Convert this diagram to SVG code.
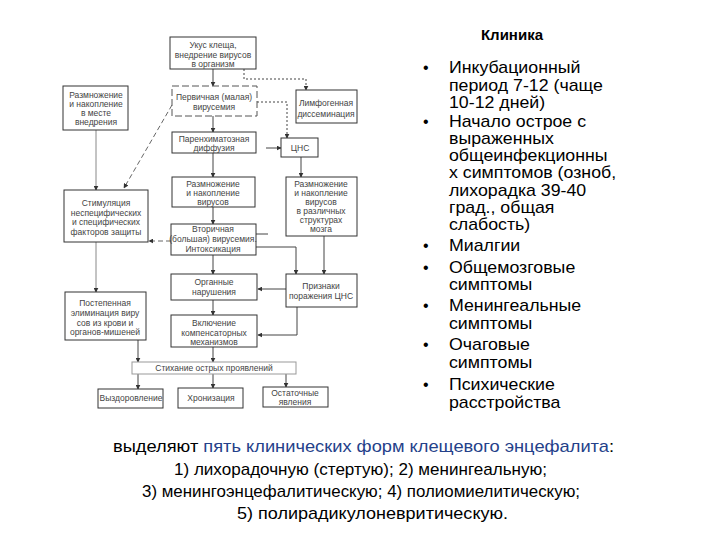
<svg xmlns="http://www.w3.org/2000/svg" width="720" height="540" viewBox="0 0 720 540">
<defs>
<marker id="ah" viewBox="0 0 8 8" refX="7" refY="4" markerWidth="5" markerHeight="5" orient="auto" markerUnits="userSpaceOnUse">
<path d="M0,0 L8,4 L0,8 z" fill="#333"/>
</marker>
</defs>
<style>
.b{fill:#fff;stroke:#333;stroke-width:1}
.bd{fill:#fff;stroke:#555;stroke-width:1;stroke-dasharray:7 3}
.bl{fill:#fff;stroke:#999;stroke-width:1}
.t{font-family:"Liberation Sans",Arial,sans-serif;font-size:8.5px;fill:#444;text-anchor:middle}
.c{fill:none;stroke:#444;stroke-width:1}
.cg{fill:none;stroke:#888;stroke-width:1}
.cd{fill:none;stroke:#444;stroke-width:1;stroke-dasharray:2 2}
.cdl{fill:none;stroke:#666;stroke-width:1;stroke-dasharray:5 3}
.r{font-family:"Liberation Sans",Arial,sans-serif;font-size:16px;fill:#000}
.bt{font-family:"Liberation Sans",Arial,sans-serif;font-size:17px;fill:#000;text-anchor:middle}
</style>
<rect width="720" height="540" fill="#fff"/>

<g id="connectors">
<path class="c" d="M213,69 V86" marker-end="url(#ah)"/>
<path class="c" d="M213,116 V132" marker-end="url(#ah)"/>
<path class="c" d="M213,153 V177" marker-end="url(#ah)"/>
<path class="c" d="M213,207 V224" marker-end="url(#ah)"/>
<path class="c" d="M213,255 V274" marker-end="url(#ah)"/>
<path class="c" d="M213,300 V315" marker-end="url(#ah)"/>
<path class="c" d="M213,347 V362" marker-end="url(#ah)"/>
<path class="cd" d="M244,69 V79 H306 V90" marker-end="url(#ah)"/>
<path class="cd" d="M257,102 H287 V138" marker-end="url(#ah)"/>
<path class="c" d="M266,148 H281" marker-end="url(#ah)"/>
<path class="c" d="M301,157 V177" marker-end="url(#ah)"/>
<path class="c" d="M256,234 H268"/>
<path class="c" d="M256,247 H296 V274" marker-end="url(#ah)"/>
<path class="c" d="M324,236 V274" marker-end="url(#ah)"/>
<path class="c" d="M286,289 H258" marker-end="url(#ah)"/>
<path class="c" d="M297,307 V335 H258" marker-end="url(#ah)"/>
<path class="cg" d="M96,130 V190" marker-end="url(#ah)"/>
<path class="cdl" d="M172,105 L124,188" marker-end="url(#ah)"/>
<path class="cdl" d="M171,241 H149" marker-end="url(#ah)"/>
<path class="cg" d="M96,242 V292" marker-end="url(#ah)"/>
<path class="c" d="M138,340 V362" marker-end="url(#ah)"/>
<path class="c" d="M138,374 V389" marker-end="url(#ah)"/>
<path class="c" d="M213,374 V388" marker-end="url(#ah)"/>
<path class="c" d="M286,374 V387" marker-end="url(#ah)"/>
</g>

<g id="n-ukus"><rect class="b" x="170" y="37" width="86" height="32"/>
<text class="t"><tspan x="213" y="48">Укус клеща,</tspan><tspan x="213" y="58">внедрение вирусов</tspan><tspan x="213" y="67">в организм</tspan></text></g>

<g id="n-perv"><rect class="bd" x="172" y="86" width="85" height="30"/>
<text class="t"><tspan x="214" y="100">Первичная (малая)</tspan><tspan x="214" y="110">вирусемия</tspan></text></g>

<g id="n-limf"><rect class="b" x="296" y="90" width="61" height="33"/>
<text class="t"><tspan x="326" y="106">Лимфогенная</tspan><tspan x="326" y="117">диссеминация</tspan></text></g>

<g id="n-paren"><rect class="b" x="172" y="132" width="84" height="21"/>
<text class="t"><tspan x="214" y="142">Паренхиматозная</tspan><tspan x="214" y="151">диффузия</tspan></text></g>

<g id="n-cns"><rect class="b" x="281" y="138" width="37" height="19"/>
<text class="t" x="300" y="151">ЦНС</text></g>

<g id="n-razm"><rect class="b" x="172" y="177" width="83" height="30"/>
<text class="t"><tspan x="213" y="187">Размножение</tspan><tspan x="213" y="196">и накопление</tspan><tspan x="213" y="205">вирусов</tspan></text></g>

<g id="n-razm-mozg"><rect class="b" x="286" y="177" width="71" height="59"/>
<text class="t"><tspan x="321" y="187">Размножение</tspan><tspan x="321" y="196">и накопление</tspan><tspan x="321" y="205">вирусов</tspan><tspan x="321" y="214">в различных</tspan><tspan x="321" y="223">структурах</tspan><tspan x="321" y="232">мозга</tspan></text></g>

<g id="n-vtor"><rect class="b" x="171" y="224" width="85" height="31"/>
<text class="t"><tspan x="213" y="232">Вторичная</tspan><tspan x="213" y="242">(большая) вирусемия.</tspan><tspan x="213" y="252">Интоксикация</tspan></text></g>

<g id="n-organ"><rect class="b" x="171" y="274" width="86" height="26"/>
<text class="t"><tspan x="214" y="285">Органные</tspan><tspan x="214" y="295">нарушения</tspan></text></g>

<g id="n-priznaki"><rect class="b" x="286" y="274" width="71" height="33"/>
<text class="t"><tspan x="321" y="289">Признаки</tspan><tspan x="321" y="299">поражения ЦНС</tspan></text></g>

<g id="n-vkl"><rect class="b" x="171" y="315" width="86" height="32"/>
<text class="t"><tspan x="214" y="326">Включение</tspan><tspan x="214" y="336">компенсаторных</tspan><tspan x="214" y="345">механизмов</tspan></text></g>

<g id="n-stih"><rect class="bl" x="132" y="362" width="164" height="12"/>
<text class="t" x="214" y="371">Стихание острых проявлений</text></g>

<g id="n-vyzd"><rect class="b" x="98" y="389" width="65" height="19"/>
<text class="t" x="131" y="401">Выздоровление</text></g>

<g id="n-hron"><rect class="b" x="178" y="388" width="65" height="20"/>
<text class="t" x="211" y="401">Хронизация</text></g>

<g id="n-ost"><rect class="b" x="263" y="387" width="65" height="20"/>
<text class="t"><tspan x="295" y="396">Остаточные</tspan><tspan x="295" y="405">явления</tspan></text></g>

<g id="n-mesto"><rect class="b" x="63" y="86" width="65" height="44"/>
<text class="t"><tspan x="96" y="98">Размножение</tspan><tspan x="96" y="107">и накопление</tspan><tspan x="96" y="116">в месте</tspan><tspan x="96" y="125">внедрения</tspan></text></g>

<g id="n-stim"><rect class="b" x="64" y="190" width="84" height="52"/>
<text class="t"><tspan x="106" y="206">Стимуляция</tspan><tspan x="106" y="215.5">неспецифических</tspan><tspan x="106" y="225">и специфических</tspan><tspan x="106" y="234.5">факторов защиты</tspan></text></g>

<g id="n-elim"><rect class="b" x="65" y="292" width="81" height="48"/>
<text class="t"><tspan x="105" y="306">Постепенная</tspan><tspan x="105" y="316">элиминация виру</tspan><tspan x="105" y="326">сов из крови и</tspan><tspan x="105" y="335">органов-мишеней</tspan></text></g>

<g id="klinika">
<text x="512" y="40" font-family="Liberation Sans, Arial, sans-serif" font-size="15" font-weight="bold" text-anchor="middle">Клиника</text>
<text class="r" x="423" y="73">•</text>
<text class="r" x="423" y="127">•</text>
<text class="r" x="423" y="251">•</text>
<text class="r" x="423" y="273">•</text>
<text class="r" x="423" y="311">•</text>
<text class="r" x="423" y="350">•</text>
<text class="r" x="423" y="390">•</text>
<g transform="translate(449,0) scale(1.11,1) translate(-449,0)">
<text class="r"><tspan x="449" y="73">Инкубационный</tspan><tspan x="449" y="91">период 7-12 (чаще</tspan><tspan x="449" y="108">10-12 дней)</tspan><tspan x="449" y="127">Начало острое с</tspan><tspan x="449" y="144">выраженных</tspan><tspan x="449" y="161">общеинфекционны</tspan><tspan x="449" y="178">х симптомов (озноб,</tspan><tspan x="449" y="196">лихорадка 39-40</tspan><tspan x="449" y="213">град., общая</tspan><tspan x="449" y="230">слабость)</tspan><tspan x="449" y="251">Миалгии</tspan><tspan x="449" y="273">Общемозговые</tspan><tspan x="449" y="290">симптомы</tspan><tspan x="449" y="311">Менингеальные</tspan><tspan x="449" y="329">симптомы</tspan><tspan x="449" y="350">Очаговые</tspan><tspan x="449" y="368">симптомы</tspan><tspan x="449" y="390">Психические</tspan><tspan x="449" y="408">расстройства</tspan></text>
</g>
</g>

<g id="forms">
<text class="bt" x="363.5" y="452" textLength="501" lengthAdjust="spacingAndGlyphs">выделяют <tspan fill="#24418a">пять клинических форм клещевого энцефалита</tspan>:</text>
<text class="bt" x="360.5" y="475" textLength="373" lengthAdjust="spacingAndGlyphs">1)  лихорадочную (стертую); 2) менингеальную;</text>
<text class="bt" x="361" y="497" textLength="438" lengthAdjust="spacingAndGlyphs">3) менингоэнцефалитическую; 4) полиомиелитическую;</text>
<text class="bt" x="372.5" y="519" textLength="271" lengthAdjust="spacingAndGlyphs">5) полирадикулоневритическую.</text>
</g>
</svg>
